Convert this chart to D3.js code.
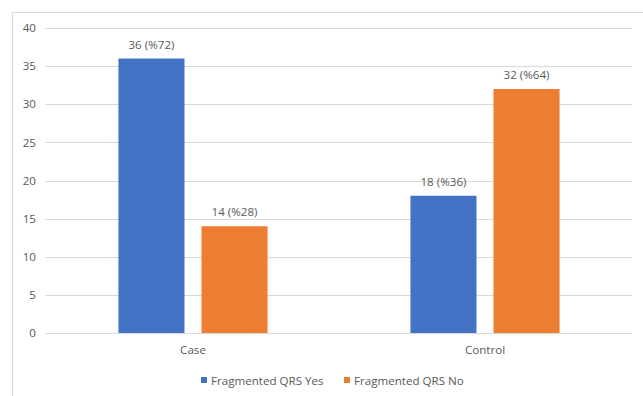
<!DOCTYPE html>
<html><head><meta charset="utf-8">
<script src="https://cdn.jsdelivr.net/npm/d3@7"></script>
<style>body{margin:0;background:#fff}svg{display:block}text{font-family:"Open Sans","Segoe UI",sans-serif;fill:#595959}</style>
</head><body><svg id="c" width="643" height="396"></svg>
<script>
const categories = ["Case", "Control"];
const seriesNames = ["Fragmented QRS Yes", "Fragmented QRS No"];
const yesValues = [36, 18];
const noValues = [14, 32];
const yesLabels = ["36 (%72)", "18 (%36)"];
const noLabels = ["14 (%28)", "32 (%64)"];
const yTicks = [0, 5, 10, 15, 20, 25, 30, 35, 40];
const colors = ["#4472C4", "#ED7D31"];
const FS = 11.6;

const svg = d3.select("#c");
svg.append("rect").attr("x", 12.5).attr("y", 12.5).attr("width", 640).attr("height", 400)
  .attr("fill", "none").attr("stroke", "#d9d9d9");

const y = d3.scaleLinear().domain([0, 40]).range([333, 28]);
const x0 = d3.scaleBand().domain(categories).range([47, 631]).padding(0);
const x1 = d3.scaleBand().domain(seriesNames).range([0, x0.bandwidth()]).paddingInner(0.205).paddingOuter(0.86);

// gridlines
svg.append("g").selectAll("line").data(yTicks).join("line")
  .attr("x1", 45).attr("x2", 632)
  .attr("y1", d => Math.round(y(d)) + 0.5).attr("y2", d => Math.round(y(d)) + 0.5)
  .attr("stroke", "#d9d9d9");

// y axis labels
const yAxis = d3.axisLeft(y).tickValues(yTicks).tickSize(0).tickPadding(0);
const gy = svg.append("g").attr("transform", "translate(36,0)").call(yAxis);
gy.select(".domain").remove();
gy.selectAll("text").attr("font-size", FS).style("fill", "#595959").attr("font-family", "Open Sans, sans-serif");

// x axis labels
const xAxis = d3.axisBottom(x0).tickSize(0).tickPadding(0);
const gx = svg.append("g").attr("transform", "translate(0,346)").call(xAxis);
gx.select(".domain").remove();
gx.selectAll("text").attr("font-size", FS).style("fill", "#595959").attr("font-family", "Open Sans, sans-serif");

const data = categories.map((c, i) => ({
  cat: c,
  vals: [
    { s: seriesNames[0], v: yesValues[i], l: yesLabels[i], c: colors[0] },
    { s: seriesNames[1], v: noValues[i], l: noLabels[i], c: colors[1] }
  ]
}));

const groups = svg.append("g").selectAll("g").data(data).join("g")
  .attr("transform", d => `translate(${x0(d.cat)},0)`);
groups.selectAll("rect").data(d => d.vals).join("rect")
  .attr("x", d => x1(d.s)).attr("width", x1.bandwidth())
  .attr("y", d => y(d.v)).attr("height", d => y(0) - y(d.v))
  .attr("fill", d => d.c);
groups.selectAll("text").data(d => d.vals).join("text")
  .attr("x", d => x1(d.s) + x1.bandwidth() / 2).attr("y", d => y(d.v) - 10)
  .attr("text-anchor", "middle").attr("font-size", FS).text(d => d.l);

// legend
const legendX = [201, 344];
const lg = svg.append("g").selectAll("g").data(seriesNames).join("g")
  .attr("transform", (d, i) => `translate(${legendX[i]},377)`);
lg.append("rect").attr("width", 6).attr("height", 6).attr("fill", (d, i) => colors[i]);
lg.append("text").attr("x", 10).attr("y", 7.5).attr("font-size", FS).text(d => d);
</script></body></html>
